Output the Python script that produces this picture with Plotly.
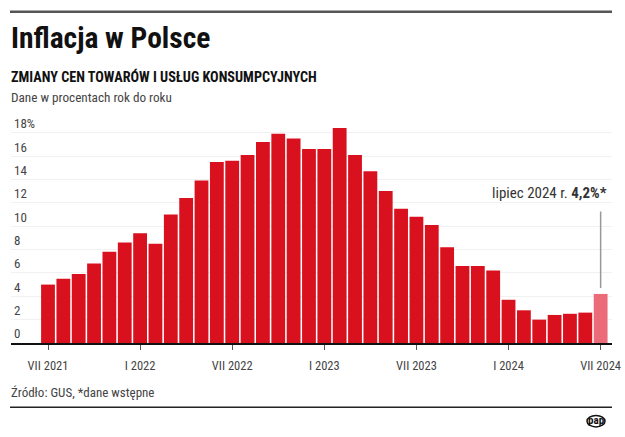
import plotly.graph_objects as go

# ---- data ----
months = ["VII 2021", "VIII 2021", "IX 2021", "X 2021", "XI 2021", "XII 2021",
          "I 2022", "II 2022", "III 2022", "IV 2022", "V 2022", "VI 2022",
          "VII 2022", "VIII 2022", "IX 2022", "X 2022", "XI 2022", "XII 2022",
          "I 2023", "II 2023", "III 2023", "IV 2023", "V 2023", "VI 2023",
          "VII 2023", "VIII 2023", "IX 2023", "X 2023", "XI 2023", "XII 2023",
          "I 2024", "II 2024", "III 2024", "IV 2024", "V 2024", "VI 2024",
          "VII 2024"]
inflation = [5.0, 5.5, 5.9, 6.8, 7.8, 8.6,
             9.4, 8.5, 11.0, 12.4, 13.9, 15.5,
             15.6, 16.1, 17.2, 17.9, 17.5, 16.6,
             16.6, 18.4, 16.1, 14.7, 13.0, 11.5,
             10.8, 10.1, 8.2, 6.6, 6.6, 6.2,
             3.7, 2.8, 2.0, 2.4, 2.5, 2.6,
             4.2]
x_tick_labels = ["VII 2021", "I 2022", "VII 2022", "I 2023", "VII 2023", "I 2024", "VII 2024"]
y_tick_vals = [0, 2, 4, 6, 8, 10, 12, 14, 16, 18]
y_tick_text = ["0", "2", "4", "6", "8", "10", "12", "14", "16", "18%"]

RED = "#d9111f"
PINK = "#ec6b78"
FONT = "Liberation Sans Narrow, Roboto Condensed, Arial Narrow, sans-serif"

W, H = 625, 437
L, R = 11, 612        # plot area left/right pixels
Y_MAX = 19.6
UNIT = 11.7           # pixels per percentage point
B = 343               # pixel of y=0
T = B - Y_MAX * UNIT  # plot area top pixel

def px(x):
    return (x - L) / (R - L)

def py(y):
    return (B - y) / (B - T)

colors = [RED] * (len(inflation) - 1) + [PINK]
xs = list(range(len(months)))

fig = go.Figure()
fig.add_trace(go.Bar(
    x=xs, y=inflation, marker=dict(color=colors, line=dict(width=0)),
    hoverinfo="skip", showlegend=False,
))

tickvals = [months.index(m) for m in x_tick_labels]

fig.update_layout(
    width=W, height=H,
    margin=dict(l=L, r=W - R, t=T, b=H - B, pad=0, autoexpand=False),
    paper_bgcolor="white", plot_bgcolor="white",
    bargap=0.1,
    font=dict(family=FONT, color="#333"),
    xaxis=dict(
        range=[-2.41, 36.74], tickvals=tickvals, ticktext=x_tick_labels,
        showline=True, linecolor="#111", linewidth=1.5,
        ticks="outside", ticklen=5, tickcolor="#555", tickwidth=1,
        ticklabelstandoff=5,
        tickfont=dict(size=12.5, color="#444", family=FONT),
        showgrid=False, zeroline=False, fixedrange=True, automargin=False,
    ),
    yaxis=dict(
        range=[0, Y_MAX], tickvals=y_tick_vals, ticktext=y_tick_text,
        ticklabelposition="inside top", ticks="",
        tickfont=dict(size=13, color="#444", family=FONT),
        showgrid=True, gridcolor="#f1f1f1", gridwidth=1,
        zeroline=False, showline=False, fixedrange=True, automargin=False,
    ),
)

shapes = [
    dict(type="rect", xref="paper", yref="paper", x0=px(10), x1=px(612), y0=py(10), y1=py(12.5),
         line=dict(width=0), fillcolor="#555"),
    dict(type="rect", xref="paper", yref="paper", x0=px(10), x1=px(612), y0=py(406.5), y1=py(408),
         line=dict(width=0), fillcolor="#222"),
    dict(type="circle", xref="paper", yref="paper", x0=px(587), x1=px(605), y0=py(415.5), y1=py(427),
         line=dict(color="#111", width=1.5), fillcolor="white"),
]
fig.update_layout(shapes=shapes)

last_i = len(inflation) - 1
last_v = inflation[-1]
annotations = [
    dict(xref="paper", yref="paper", x=px(9), y=py(38), xanchor="left", yanchor="middle",
         text="<b>Inflacja w Polsce</b>", showarrow=False,
         font=dict(size=29.5, color="#111", family=FONT)),
    dict(xref="paper", yref="paper", x=px(9), y=py(76), xanchor="left", yanchor="middle",
         text="<b>ZMIANY CEN TOWARÓW I USŁUG KONSUMPCYJNYCH</b>", showarrow=False,
         font=dict(size=14.2, color="#111", family=FONT)),
    dict(xref="paper", yref="paper", x=px(9), y=py(97), xanchor="left", yanchor="middle",
         text="Dane w procentach rok do roku", showarrow=False,
         font=dict(size=13.2, color="#444", family=FONT)),
    dict(xref="paper", yref="paper", x=px(9), y=py(393), xanchor="left", yanchor="middle",
         text="Źródło: GUS, *dane wstępne", showarrow=False,
         font=dict(size=13, color="#444", family=FONT)),
    dict(xref="paper", yref="paper", x=px(596), y=py(421), xanchor="center", yanchor="middle",
         text="<b>pap</b>", showarrow=False,
         font=dict(size=11, color="#111", family=FONT)),
    # leader line above last bar
    dict(x=last_i, y=last_v, xref="x", yref="y", text="", showarrow=True,
         arrowhead=0, arrowwidth=1.5, arrowcolor="#999", ax=0, ay=-84,
         standoff=6),
    dict(x=last_i, y=last_v, xref="x", yref="y", xanchor="right", yanchor="middle",
         text="lipiec 2024 r. <b>4,2%*</b>", showarrow=False, xshift=8, yshift=101,
         font=dict(size=15, color="#333", family=FONT)),
]
fig.update_layout(annotations=annotations)

fig.write_html("out.html", config={"displayModeBar": False},
               post_script="document.body.style.margin='0';document.body.style.padding='0';")
